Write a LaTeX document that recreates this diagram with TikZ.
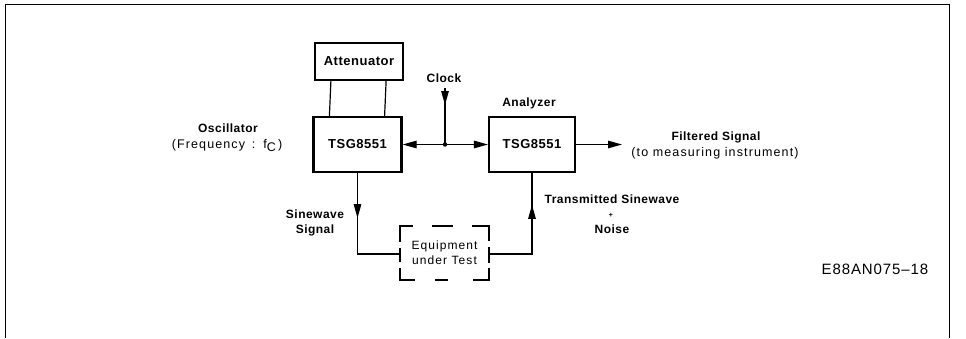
\documentclass[tikz,border=0pt]{standalone}
\usepackage{fontspec}
\setmainfont{Liberation Sans}[LetterSpace=4]
\newfontfamily\regl{Liberation Sans}[LetterSpace=9]
\newfontfamily\codef{Liberation Sans}[LetterSpace=6]
\usetikzlibrary{arrows.meta,decorations.markings}
\begin{document}
\begin{tikzpicture}[x=1pt,y=-1pt,
  box/.style={draw,line width=2.2pt,minimum width=88pt,minimum height=55pt,inner sep=0pt,
    font=\fontsize{13}{15}\selectfont\bfseries},
  lbl/.style={font=\fontsize{12}{14}\selectfont\bfseries,inner sep=0pt,align=center},
  rlbl/.style={font=\fontsize{12.5}{14}\regl,inner sep=0pt,align=center},
  conn/.style={line width=1.2pt},
  tip/.tip={Triangle[length=14pt,width=7.5pt]},
  midarrow/.style={postaction={decorate},decoration={markings,mark=at position #1 with {\arrow{tip}}}}
]
\useasboundingbox (0,0) rectangle (966,338);
% frame
\draw[line width=1pt] (5,338) -- (5,4) -- (949,4) -- (949,338);

% blocks
\node[box,minimum height=37pt] (att) at (359,61.5) {Attenuator};
\node[box] (osc) at (357.5,144.5) {TSG8551};
\node[box,minimum width=86pt] (ana) at (532,144.5) {TSG8551};
\node[minimum width=89pt,minimum height=54pt,inner sep=0pt,align=center,
  font=\fontsize{12}{15}\regl] (eut) at (444.5,253) {Equipment\\under Test};

% dashed-style frame of the equipment box
\begin{scope}[shift={(eut.north west)},line width=2.4pt]
  \draw (0,16) -- (0,0) -- (13,0);
  \draw (32,0) -- (53,0);
  \draw (72,0) -- (89,0) -- (89,15);
  \draw (89,21) -- (89,37);
  \draw (89,42) -- (89,54) -- (73,54);
  \draw (48,54) -- (35,54);
  \draw (15,54) -- (0,54) -- (0,42);
  \draw (0,22) -- (0,36);
\end{scope}

% attenuator links
\draw[conn] ([xshift=17pt]att.south west) -- ([xshift=17pt]osc.north west);
\draw[conn] ([xshift=-18pt]att.south east) -- ([xshift=-18pt]osc.north east);

% clock bus
\coordinate (j) at (445,144.5);
\coordinate (clk) at (445,88);
\draw[conn,{tip}-{tip}] (osc) -- (ana);
\fill (j) circle (2.2pt);
\draw[conn,midarrow=17pt] (clk) -- (j);

% output
\coordinate (out) at (622,144.5);
\draw[conn,-{tip}] (ana) -- (out);

% test loop
\coordinate (le) at ([yshift=-1pt]eut.west);
\coordinate (re) at ([yshift=-1pt]eut.east);
\draw[conn,midarrow=45pt] (osc.south) -- (osc.south |- le) -- (le);
\draw[conn,midarrow=92pt] (re) -- (re -| ana.south) -- (ana.south);

% labels
\node[lbl] (oscl) at (228,128) {Oscillator};
\node[rlbl] (freq) at (227,146) {(Frequency \,:\, f\raisebox{-0.45ex}{C}\,)};
\node[lbl] (clkl) at (444,78) {Clock};
\node[lbl] (anal) at (529,103) {Analyzer};
\node[lbl] (filt) at (716,137) {Filtered Signal};
\node[rlbl] (meas) at (715,153) {(to measuring instrument)};
\node[lbl] (sine) at (315,223) {Sinewave\\[1pt]Signal};
\node[lbl] (trans) at (612,199) {Transmitted Sinewave};
\node[font=\fontsize{7}{8}\selectfont\bfseries,inner sep=0pt] (plus) at (611,215) {+};
\node[lbl] (noise) at (612,229) {Noise};
\node[font=\fontsize{15}{17}\codef,inner sep=0pt] (code) at (875,269) {E88AN075–18};
\end{tikzpicture}
\end{document}
